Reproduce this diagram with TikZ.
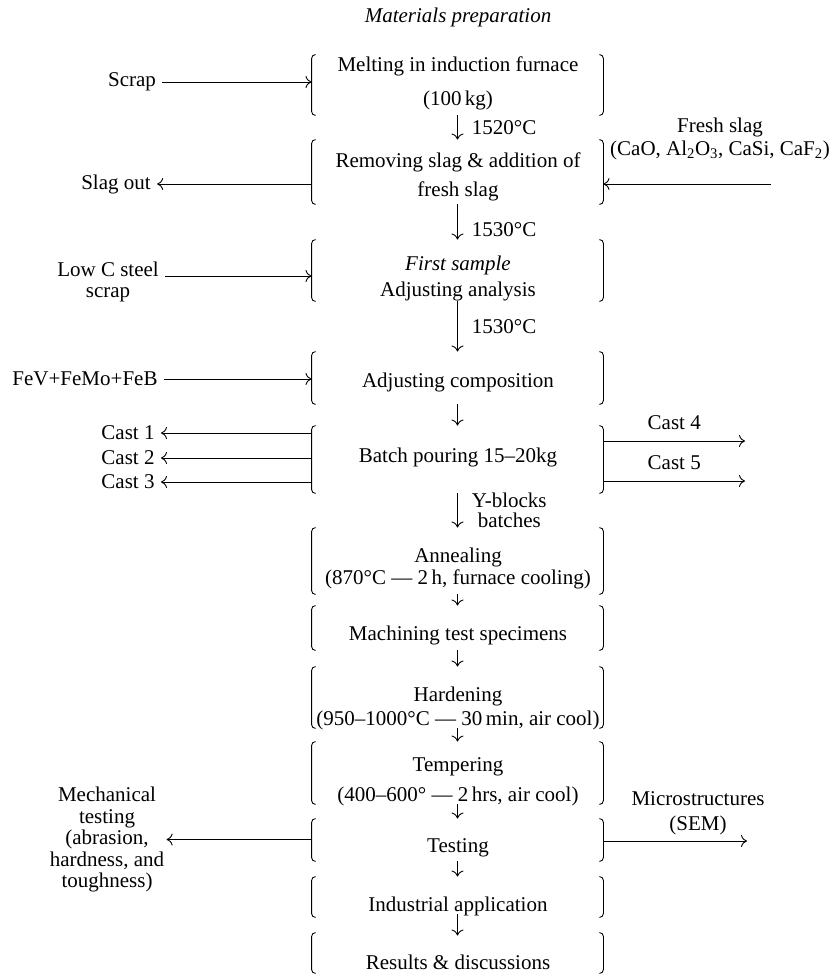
\documentclass[tikz,border=0pt]{standalone}
\usepackage{fontspec}
\setmainfont{Liberation Serif}
\usetikzlibrary{arrows.meta,positioning}

\begin{document}
\begin{tikzpicture}[x=1pt, y=1pt,
  font=\fontsize{21}{21.5}\selectfont,
  >={To[length=6pt,width=12pt]}, line width=0.9pt,
  stage/.style={minimum width=291pt, inner sep=0pt},
  txt/.style={inner sep=1pt, align=center},
  side/.style={inner sep=6pt, align=center},
  temp/.style={anchor=west, xshift=12pt, inner sep=2pt, align=center}]
\useasboundingbox (0,0) rectangle (831,-974);

\node (title) at (458,-17) {\itshape Materials preparation};

\foreach \n/\yc/\h in {melt/85/60, slag/172/64, sample/270.5/61, compo/378/52,
    pour/459.5/67, anneal/561/66, machine/628/44, harden/697.5/61,
    temper/773/62, test/840/42, industry/897/40, result/953/40}{
  \node[stage, minimum height=\h pt] (\n) at (457.5,-\yc) {};
  \draw[rounded corners=4pt] ([xshift=4pt]\n.north west) -- (\n.north west) -- (\n.south west) -- ([xshift=4pt]\n.south west);
  \draw[rounded corners=4pt] ([xshift=-4pt]\n.north east) -- (\n.north east) -- (\n.south east) -- ([xshift=-4pt]\n.south east);
}

\node[txt] (meltT) at (458,-83.5) {Melting in induction furnace\\[13pt](100\,kg)};
\node[txt] (slagT) at (458,-177) {Removing slag \& addition of\\[8pt]fresh slag};
\node[txt] (sampleT) at (458,-278.5) {\itshape First sample\\[5pt]Adjusting analysis};
\node[txt] (compoT) at (458,-382) {Adjusting composition};
\node[txt] (pourT) at (458,-457) {Batch pouring 15–20kg};
\node[txt] (annealT) at (458,-568.5) {Annealing\\(870°C --- 2\,h, furnace cooling)};
\node[txt] (machineT) at (458,-635) {Machining test specimens};
\node[txt] (hardenT) at (458,-708) {Hardening\\[2.5pt](950–1000°C --- 30\,min, air cool)};
\node[txt] (temperT) at (458,-782) {Tempering\\[8.5pt](400–600° --- 2\,hrs, air cool)};
\node[txt] (testT) at (458,-848) {Testing};
\node[txt] (industryT) at (458,-906) {Industrial application};
\node[txt] (resultT) at (458,-962) {Results \& discussions};

\draw[->] (melt) -- (slag) node[temp, midway] {1520°C};
\draw[->] (slag) -- (sample) node[temp, pos=0.72] {1530°C};
\draw[->] (sample) -- (compo) node[temp, midway] {1530°C};
\draw[->] (compo) -- (pour);
\draw[->] (pour) -- (anneal) node[temp, midway] {Y-blocks\\[-2pt]batches};
\draw[->] (anneal) -- (machine);
\draw[->] (machine) -- (harden);
\draw[->] (harden) -- (temper);
\draw[->] (temper) -- (test);
\draw[->] (test) -- (industry);
\draw[->, shorten <=-3pt, shorten >=-3pt] (industry) -- (result);

\node[side] (scrap) at (132,-82) {Scrap};
\draw[->] (scrap) -- (scrap -| melt.west);

\node[side] (slagout) at (116,-184) {Slag out};
\draw[->] (slagout -| slag.west) -- (slagout);

\node[side] (fresh) at (720,-138.5) {Fresh slag\\[1.5pt](CaO, Al\textsubscript{2}O\textsubscript{3}, CaSi, CaF\textsubscript{2})};
\coordinate (freshin) at (771,-184);
\draw[->] (freshin) -- (freshin -| slag.east);

\node[side] (lowc) at (108,-282) {Low C steel\\scrap};
\draw[->] ([yshift=6pt]lowc.east) -- ([yshift=6pt]lowc.east -| sample.west);

\node[side] (fev) at (85,-379) {FeV+FeMo+FeB};
\draw[->] (fev) -- (fev -| compo.west);

\foreach \i/\y in {1/433,2/458,3/482}{
  \node[side] (cast\i) at (128,-\y) {Cast \i};
  \draw[->] (cast\i -| pour.west) -- (cast\i);
}
\coordinate (cast4) at (745,-441);
\coordinate (cast5) at (745,-481);
\draw[->] (cast4 -| pour.east) -- (cast4) node[midway, above=8pt] {Cast 4};
\draw[->] (cast5 -| pour.east) -- (cast5) node[midway, above=8pt] {Cast 5};

\node[side, inner sep=2pt] (mech) at (107,-839.5) {Mechanical\\testing\\(abrasion,\\hardness, and\\toughness)};
\draw[->] (mech -| test.west) -- (mech);

\node[side] (micro) at (698,-813.5) {Microstructures\\[3.5pt](SEM)};
\coordinate (microout) at (747,-841);
\draw[->] (microout -| test.east) -- (microout);
\end{tikzpicture}
\end{document}
